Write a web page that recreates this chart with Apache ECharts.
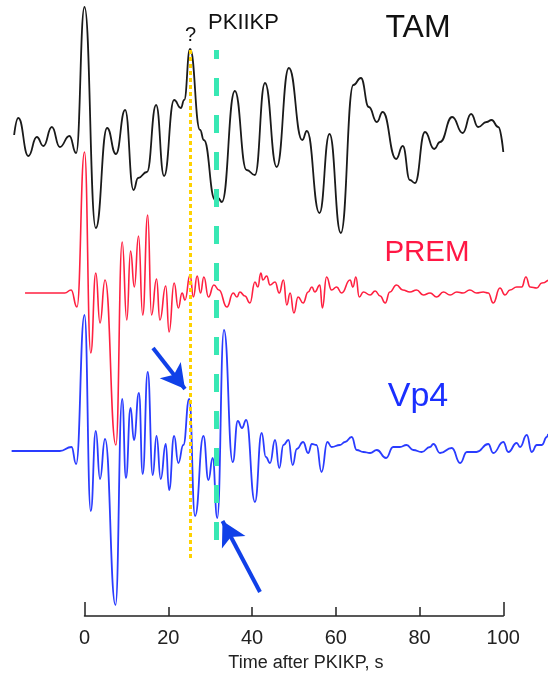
<!DOCTYPE html>
<html>
<head>
<meta charset="utf-8">
<script src="https://cdn.jsdelivr.net/npm/echarts@6/dist/echarts.min.js"></script>
<style>
html,body{margin:0;padding:0;background:#fff;}
#c{width:548px;height:677px;}
</style>
</head>
<body>
<div id="c"></div>
<script>
// ---- data: time after PKIKP (s) and relative amplitude ----
const tamTime = [-16.8,-15.8,-13.4,-11.4,-9.8,-7.8,-5.9,-3.6,-2.0,0.0,2.7,5.4,7.5,9.7,11.7,12.8,14.9,17.1,19.0,21.4,23.0,23.8,25.2,27.6,28.5,31.2,31.9,32.8,35.9,38.7,40.7,43.1,45.9,48.8,52.0,53.1,56.1,58.5,61.2,64.2,66.0,67.9,69.8,71.2,74.4,76.0,77.7,78.9,81.3,83.5,84.9,87.8,90.3,92.3,94.0,96.0,97.2,98.8,100.0];
const tamAmp  = [0,17,-21,-2,-11,8,-12,-1,-18,128,-93,7,-19,25,-55,-43,-37,30,-41,35,27,35,86,5,-5,-65,-63,-67,44,-35,-40,52,-32,67,-5,4,-78,1,-98,50,57,28,13,23,-24,-11,-45,-48,3,-14,-7,18,2,21,8,13,15,8,-17];

const premTime = [-14.2,-4.7,-3.2,-1.8,0.0,1.5,2.7,3.7,4.9,7.5,9.0,10.1,11.0,11.9,12.9,13.9,15.1,16.0,17.2,18.0,19.4,20.2,21.4,22.4,23.3,24.0,25.2,26.0,26.9,27.7,28.5,29.6,30.9,32.1,34.0,35.5,36.4,37.1,38.3,39.5,40.7,41.4,42.1,42.6,43.5,44.3,45.5,46.5,47.5,48.3,49.1,50.0,51.0,52.2,53.4,54.3,55.0,56.2,56.8,57.8,59.0,60.2,61.4,63.4,64.1,64.8,65.6,66.6,68.2,69.4,70.6,71.8,72.9,74.5,76.0,77.7,79.3,80.9,82.5,84.1,85.7,87.3,88.9,90.4,92.0,93.6,95.2,96.4,97.6,99.2,100.4,101.6,103.2,104.4,105.4,106.4,108.0,109.2,110.7];
const premAmp  = [0,0,3,-14,141,-60,20,-30,13,-152,51,-27,42,6,57,-22,78,-22,14,-27,7,-39,10,-15,0,-7,18,-4,17,0,16,-4,8,3,-14,0,-4,1,-3,-10,11,6,20,13,17,8,11,0,13,-12,0,-20,-4,-10,1,6,1,8,-15,16,3,6,0,13,6,16,-4,1,-2,2,-3,-10,1,8,3,1,3,-2,0,-4,1,-2,1,0,3,0,1,0,-10,5,-2,3,6,6,16,6,5,10,13];

const vp4Time = [-17.4,-5.9,-3.1,-2.0,0.0,1.5,2.7,3.7,4.9,7.4,9.0,9.9,11.0,11.8,13.0,13.9,15.1,16.3,17.2,18.2,19.4,20.2,21.4,22.4,23.6,25.0,26.4,28.4,29.6,30.6,31.7,33.3,35.4,36.6,37.6,38.6,40.7,42.3,43.3,44.3,45.5,46.5,47.5,48.7,49.7,50.7,52.2,53.4,54.3,55.4,56.6,58.0,59.0,61.0,62.2,63.8,65.0,66.6,68.2,69.8,72.0,73.7,75.3,76.9,78.5,80.5,82.5,83.3,84.9,87.7,89.7,91.3,93.6,96.4,97.6,100.0,101.2,103.2,104.0,105.6,106.8,108.0,109.2,110.4,110.7];
const vp4Amp  = [0,0,4,-13,136,-60,20,-28,12,-154,52,-27,43,11,58,-23,79,-24,15,-28,7,-39,15,-12,6,52,-65,15,-29,-7,-67,121,-11,30,23,31,-51,18,-6,-12,11,-17,6,11,-14,2,9,-2,7,6,-21,9,4,6,9,14,1,-1,-2,1,-7,4,4,6,1,-1,4,7,-2,3,-12,-1,-1,7,-2,9,-1,8,4,16,-1,6,6,14,17];

const xTicks = [0, 20, 40, 60, 80, 100];
const phaseTimes = { question: 25.2, pkiikp: 31.4 };

// ---- layout (pixels) ----
const W = 548, H = 677;
const x0px = 84.5, pxPerSec = 4.188;
const traceBaseY = { tam: 135, prem: 293, vp4: 451 };

const tMin = -x0px / pxPerSec;
const tMax = (W - x0px) / pxPerSec;
const yv = py => H - py; // y value from pixel row (trace grid spans whole canvas)
const tv = px => (px - x0px) / pxPerSec;

function build(times, amps, baseY) {
  const off = yv(baseY);
  return times.map((t, i) => [t, off + amps[i]]);
}

const fontReg = "'Liberation Sans',Arial,sans-serif";

const lineCommon = { type: 'line', xAxisIndex: 0, yAxisIndex: 0, showSymbol: false, symbol: 'none', smooth: 0.5, smoothMonotone: 'x', clip: false, animation: false };

const chart = echarts.init(document.getElementById('c'), null, { renderer: 'canvas' });
chart.setOption({
  animation: false,
  backgroundColor: '#ffffff',
  grid: [
    { left: 0, right: 0, top: 0, bottom: 0 },
    { left: x0px, right: W - 503.3, top: 0, bottom: H - 616.5 }
  ],
  xAxis: [
    { gridIndex: 0, type: 'value', min: tMin, max: tMax, show: false },
    { gridIndex: 1, type: 'value', min: 0, max: 100, interval: 20, position: 'bottom',
      axisLine: { show: true, lineStyle: { color: '#222', width: 1.5 } },
      axisTick: { show: true, inside: true, length: 9, lineStyle: { color: '#222', width: 1.5 } },
      axisLabel: { show: true, margin: 12, fontSize: 20, color: '#222', fontFamily: fontReg,
        formatter: v => (xTicks.indexOf(v) >= 0 ? String(v) : '') },
      splitLine: { show: false },
      name: 'Time after PKIKP, s', nameLocation: 'middle', nameGap: 38,
      nameTextStyle: { fontSize: 18, color: '#222', fontFamily: fontReg, padding: [0, 0, 0, 24] }
    },
    { gridIndex: 1, type: 'value', min: 0, max: 100, interval: 100, position: 'bottom', offset: 0,
      axisLine: { show: false },
      axisTick: { show: true, inside: true, length: 14, lineStyle: { color: '#222', width: 1.5 } },
      axisLabel: { show: false }, splitLine: { show: false }
    }
  ],
  yAxis: [
    { gridIndex: 0, type: 'value', min: 0, max: H, show: false },
    { gridIndex: 1, type: 'value', min: 0, max: 1, show: false }
  ],
  series: [
    Object.assign({}, lineCommon, { name: 'TAM', data: build(tamTime, tamAmp, traceBaseY.tam), lineStyle: { color: '#1a1a1a', width: 1.8 }, z: 3 }),
    Object.assign({}, lineCommon, { name: 'PREM', data: build(premTime, premAmp, traceBaseY.prem), lineStyle: { color: '#ff2040', width: 1.6 }, z: 3 }),
    Object.assign({}, lineCommon, { name: 'Vp4', data: build(vp4Time, vp4Amp, traceBaseY.vp4), lineStyle: { color: '#2a3cff', width: 1.8 }, z: 4 }),
    {
      type: 'line', xAxisIndex: 0, yAxisIndex: 0, data: [], z: 6, animation: false,
      markLine: {
        silent: true, animation: false, symbol: ['none', 'none'], label: { show: false },
        data: [
          [ { coord: [phaseTimes.question, yv(50)], lineStyle: { color: '#ffd200', width: 3, type: [4, 3] } },
            { coord: [phaseTimes.question, yv(559)] } ],
          [ { coord: [phaseTimes.pkiikp, yv(50)], lineStyle: { color: '#38e8b4', width: 5, type: [18, 19], dashOffset: 9 } },
            { coord: [phaseTimes.pkiikp, yv(559)] } ]
        ]
      }
    },
    {
      type: 'line', xAxisIndex: 0, yAxisIndex: 0, data: [], z: 7, animation: false,
      markLine: {
        silent: true, animation: false, symbol: ['none', 'arrow'], symbolSize: [20, 24], label: { show: false },
        lineStyle: { color: '#1040e8', width: 4, type: 'solid' },
        data: [
          [ { coord: [tv(153), yv(348)] }, { coord: [tv(185), yv(389)] } ],
          [ { coord: [tv(260), yv(592)] }, { coord: [tv(222.5), yv(521)] } ]
        ]
      }
    }
  ],
  graphic: [
    { type: 'text', x: 418, y: 28, style: { text: 'TAM', fontSize: 32, fontFamily: fontReg, fill: '#111', align: 'center', verticalAlign: 'middle' } },
    { type: 'text', x: 243.5, y: 22.5, style: { text: 'PKIIKP', fontSize: 22, fontFamily: fontReg, fill: '#111', align: 'center', verticalAlign: 'middle' } },
    { type: 'text', x: 190.5, y: 35.5, style: { text: '?', fontSize: 20, fontFamily: fontReg, fill: '#111', align: 'center', verticalAlign: 'middle' } },
    { type: 'text', x: 427, y: 252.5, style: { text: 'PREM', fontSize: 29.5, fontFamily: fontReg, fill: '#ff1744', align: 'center', verticalAlign: 'middle' } },
    { type: 'text', x: 418, y: 397, style: { text: 'Vp4', fontSize: 34, fontFamily: fontReg, fill: '#1a2fff', align: 'center', verticalAlign: 'middle' } }
  ]
});
</script>
</body>
</html>
